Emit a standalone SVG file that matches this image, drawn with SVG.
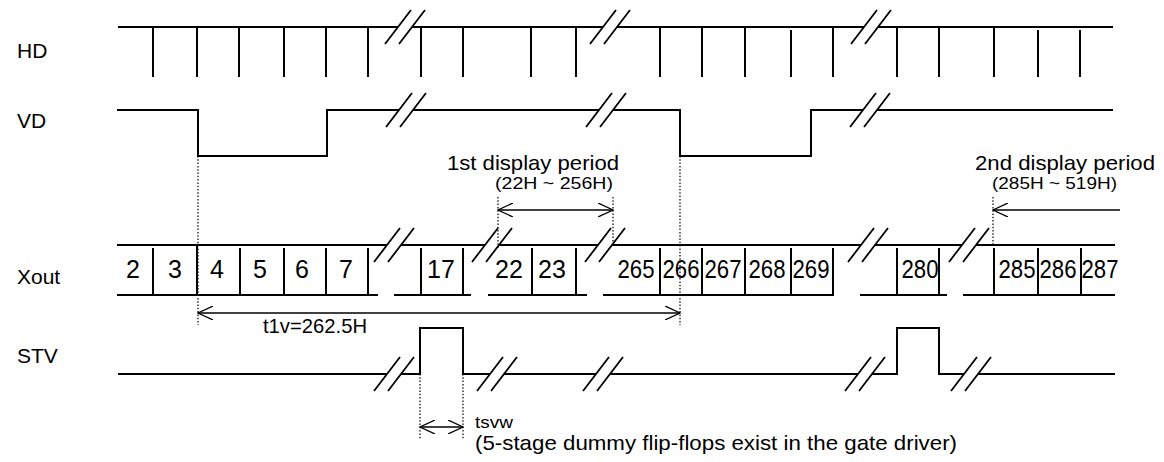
<svg xmlns="http://www.w3.org/2000/svg" width="1164" height="462" viewBox="0 0 1164 462">
<style>
.sig{fill:none;stroke:#000;stroke-width:2}
.brk{fill:none;stroke:#000;stroke-width:1.8}
.dot{fill:none;stroke:#000;stroke-width:1.2;stroke-dasharray:1.5 1.8}
.arr{fill:none;stroke:#000;stroke-width:1.3}
.lbl{font-family:"Liberation Sans",Arial,sans-serif;font-size:21px;fill:#000}
.num{font-family:"Liberation Sans",Arial,sans-serif;font-size:25px;fill:#000;text-anchor:middle}
.ann{font-family:"Liberation Sans",Arial,sans-serif;font-size:21px;fill:#000}
.sm{font-family:"Liberation Sans",Arial,sans-serif;font-size:17px;fill:#000}
</style>
<defs>
<marker id="ah" viewBox="0 0 16 14" refX="15" refY="7" markerWidth="16" markerHeight="14" markerUnits="userSpaceOnUse" orient="auto-start-reverse">
<path d="M0,0 L15,7 L0,14" fill="none" stroke="#000" stroke-width="1.3"/>
</marker>
</defs>
<rect width="1164" height="462" fill="#fff"/>

<g id="labels">
<text class="lbl" x="17" y="58">HD</text>
<text class="lbl" x="17" y="128">VD</text>
<text class="lbl" x="17" y="284">Xout</text>
<text class="lbl" x="17" y="363">STV</text>
</g>

<g id="HD">
<path class="sig" d="M118,27 H398 M412,27 H603 M617,27 H864 M878,27 H1113"/>
<path class="sig" d="M153,27 V77 M197,27 V77 M239,27 V77 M284,27 V77 M326,27 V77 M368,27 V77 M421,27 V77 M463,27 V77 M531,27 V77 M576,27 V77 M660,27 V77 M702,27 V77 M745,27 V77 M791,30 V77 M833,27 V77 M897,27 V77 M939,27 V77 M994,27 V77 M1038,30 V77 M1080,30 V77"/>
<path class="brk" d="M385,44 L411,10 M399,44 L425,10 M590,44 L616,10 M604,44 L630,10 M851,44 L877,10 M865,44 L891,10"/>
</g>

<g id="VD">
<path class="sig" d="M117,110 H198 V156 H327 V110 H399 M413,110 H599 M613,110 H680 V156 H811 V110 H863 M877,110 H1113"/>
<path class="brk" d="M386,127 L412,93 M400,127 L426,93 M586,127 L612,93 M600,127 L626,93 M850,127 L876,93 M864,127 L890,93"/>
</g>

<g id="Xout">
<path class="sig" d="M117,245 H387 M401,245 H485 M499,245 H598 M612,245 H861 M875,245 H962 M976,245 H1115"/>
<path class="sig" d="M117,295 H378 M394,295 H471 M488,295 H587 M603,295 H834 M860,295 H947 M963,295 H1115"/>
<path class="sig" d="M153,248 V295 M197,245 V295 M240,248 V295 M284,248 V295 M326,248 V295 M368,248 V295 M421,248 V295 M463,248 V295 M532,248 V295 M576,248 V295 M660,248 V295 M702,248 V295 M745,248 V295 M791,248 V295 M833,248 V295 M897,248 V295 M939,248 V295 M994,248 V295 M1038,248 V295 M1081,248 V295"/>
<path class="brk" d="M374,262 L400,228 M388,262 L414,228 M472,262 L498,228 M486,262 L512,228 M585,262 L611,228 M599,262 L625,228 M848,262 L874,228 M862,262 L888,228 M949,262 L975,228 M963,262 L989,228"/>
<text class="num" x="133" y="278">2</text>
<text class="num" x="175" y="278">3</text>
<text class="num" x="217" y="278">4</text>
<text class="num" x="260" y="278">5</text>
<text class="num" x="302" y="278">6</text>
<text class="num" x="346" y="278">7</text>
<text class="num" x="441" y="278">17</text>
<text class="num" x="509" y="278">22</text>
<text class="num" x="552" y="278">23</text>
<text class="num" x="636" y="278" textLength="37" lengthAdjust="spacingAndGlyphs">265</text>
<text class="num" x="681" y="278" textLength="37" lengthAdjust="spacingAndGlyphs">266</text>
<text class="num" x="723" y="278" textLength="37" lengthAdjust="spacingAndGlyphs">267</text>
<text class="num" x="767" y="278" textLength="37" lengthAdjust="spacingAndGlyphs">268</text>
<text class="num" x="811" y="278" textLength="37" lengthAdjust="spacingAndGlyphs">269</text>
<text class="num" x="920" y="278" textLength="37" lengthAdjust="spacingAndGlyphs">280</text>
<text class="num" x="1017" y="278" textLength="37" lengthAdjust="spacingAndGlyphs">285</text>
<text class="num" x="1058" y="278" textLength="37" lengthAdjust="spacingAndGlyphs">286</text>
<text class="num" x="1100" y="278" textLength="37" lengthAdjust="spacingAndGlyphs">287</text>
</g>

<g id="STV">
<path class="sig" d="M118,374 H387 M401,374 H420 V328 H463 V374 H490 M504,374 H596 M610,374 H858 M872,374 H897 V328 H939 V374 H964 M978,374 H1115"/>
<path class="brk" d="M374,391 L400,357 M388,391 L414,357 M477,391 L503,357 M491,391 L517,357 M583,391 L609,357 M597,391 L623,357 M845,391 L871,357 M859,391 L885,357 M951,391 L977,357 M965,391 L991,357"/>
</g>

<g id="connectors">
<path class="dot" d="M198,156 V325 M680,156 V325 M498,197 V248 M613,197 V246 M993,197 V246 M420,374 V440 M463,374 V440"/>
<path class="arr" d="M498,210 H613" marker-start="url(#ah)" marker-end="url(#ah)"/>
<path class="arr" d="M1120,210 H993" marker-end="url(#ah)"/>
<path class="arr" d="M198,313 H680" marker-start="url(#ah)" marker-end="url(#ah)"/>
<path class="arr" d="M420,427 H463" marker-start="url(#ah)" marker-end="url(#ah)"/>
</g>

<g id="annotations">
<text class="ann" x="447" y="170" textLength="172" lengthAdjust="spacingAndGlyphs">1st display period</text>
<text class="sm" x="495" y="189" textLength="118" lengthAdjust="spacingAndGlyphs">(22H ~ 256H)</text>
<text class="ann" x="975" y="170" textLength="180" lengthAdjust="spacingAndGlyphs">2nd display period</text>
<text class="sm" x="992" y="189" textLength="125" lengthAdjust="spacingAndGlyphs">(285H ~ 519H)</text>
<text class="ann" x="263" y="333" textLength="104" lengthAdjust="spacingAndGlyphs">t1v=262.5H</text>
<text class="sm" x="475" y="428" textLength="38" lengthAdjust="spacingAndGlyphs">tsvw</text>
<text class="ann" x="475" y="450" textLength="482" lengthAdjust="spacingAndGlyphs">(5-stage dummy flip-flops exist in the gate driver)</text>
</g>
</svg>
